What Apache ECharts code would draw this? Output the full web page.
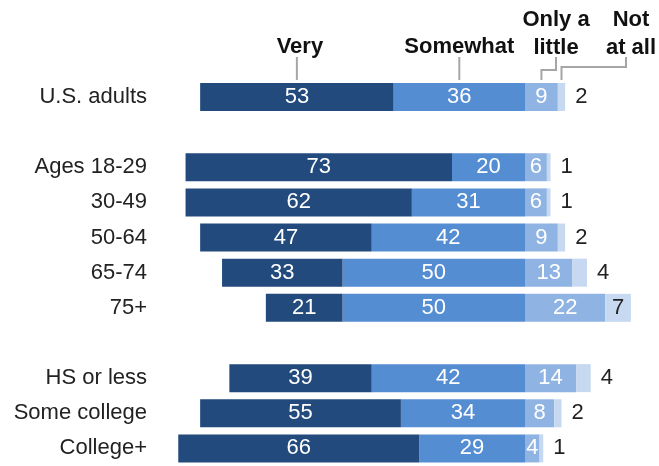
<!DOCTYPE html>
<html>
<head>
<meta charset="utf-8">
<script src="https://cdn.jsdelivr.net/npm/echarts@6/dist/echarts.min.js"></script>
<style>
  html, body { margin: 0; padding: 0; background: #fff; }
  #chart { width: 659px; height: 466px; }
</style>
</head>
<body>
<div id="chart"></div>
<script>
// rows (blank entries are the gaps between groups)
var categories = ['U.S. adults', ' ', 'Ages 18-29', '30-49', '50-64', '65-74', '75+', '  ', 'HS or less', 'Some college', 'College+'];
var very = [53, null, 73, 62, 47, 33, 21, null, 39, 55, 66];
var somewhat = [36, null, 20, 31, 42, 50, 50, null, 42, 34, 29];
var onlyLittle = [9, null, 6, 6, 9, 13, 22, null, 14, 8, 4];
var notAtAll = [2, null, 1, 1, 2, 4, 7, null, 4, 2, 1];

var FONT = '"Liberation Sans", Arial, sans-serif';
var colors = { very: '#224a7c', somewhat: '#558dd3', little: '#8fb4e3', not: '#c6d9f1' };

function neg(arr) {
  return arr.map(function (v) { return v == null ? null : -v; });
}

var chart = echarts.init(document.getElementById('chart'));

var insideLabel = {
  show: true,
  position: 'inside',
  color: '#fff',
  fontFamily: FONT,
  fontSize: 22,
  formatter: function (p) { return Math.abs(p.value); }
};

chart.setOption({
  animation: false,
  grid: { left: 160, top: 79.35, width: 496.4, height: 388.3, containLabel: false },
  xAxis: {
    type: 'value',
    min: -100,
    max: 36,
    show: false
  },
  yAxis: {
    type: 'category',
    data: categories,
    inverse: true,
    axisLine: { show: false, onZero: false },
    axisTick: { show: false },
    splitLine: { show: false },
    axisLabel: { color: '#222', fontFamily: FONT, fontSize: 22, margin: 13 }
  },
  series: [
    {
      name: 'Somewhat', type: 'bar', stack: 'total', barWidth: 28,
      itemStyle: { color: colors.somewhat },
      label: insideLabel,
      data: neg(somewhat)
    },
    {
      name: 'Very', type: 'bar', stack: 'total', barWidth: 28,
      itemStyle: { color: colors.very },
      label: insideLabel,
      data: neg(very)
    },
    {
      name: 'Only a little', type: 'bar', stack: 'total', barWidth: 28,
      itemStyle: { color: colors.little },
      label: insideLabel,
      data: onlyLittle
    },
    {
      name: 'Not at all', type: 'bar', stack: 'total', barWidth: 28,
      itemStyle: { color: colors.not },
      label: { show: true, position: 'right', distance: 10, color: '#222', fontFamily: FONT, fontSize: 22 },
      // small values sit outside the bar, larger ones fit inside
      data: notAtAll.map(function (v) {
        if (v == null) return null;
        if (v >= 5) return { value: v, label: { position: 'inside', color: '#222' } };
        return v;
      })
    }
  ]
});

// column headers with leader lines, anchored to the U.S. adults bar
function px(x) { return chart.convertToPixel({ gridIndex: 0 }, [x, 0]); }
var c0 = px(0);
var barTop = c0[1] - 14;
var lineEnd = barTop - 3;
var lineStart = 57;
var veryX = px(-(somewhat[0] + very[0] / 2))[0];
var someX = px(-(somewhat[0] / 2))[0];
var littleX = px(onlyLittle[0] / 2)[0];
var notX = px(onlyLittle[0] + notAtAll[0] / 2)[0];

var lineStyle = { stroke: '#a6a6a6', lineWidth: 2, fill: null };
function head(text, x, y) {
  return {
    type: 'text',
    style: {
      text: text, x: x, y: y,
      textAlign: 'center', textVerticalAlign: 'middle',
      font: 'bold 22px ' + FONT, lineHeight: 28, fill: '#111'
    }
  };
}

chart.setOption({
  graphic: [
    head('Very', veryX + 3, 47),
    head('Somewhat', someX, 47),
    head('Only a\nlittle', 556, 34),
    head('Not\nat all', 631, 34),
    { type: 'polyline', shape: { points: [[veryX, lineStart], [veryX, lineEnd]] }, style: lineStyle },
    { type: 'polyline', shape: { points: [[someX, lineStart], [someX, lineEnd]] }, style: lineStyle },
    { type: 'polyline', shape: { points: [[556, lineStart], [556, 70], [littleX, 70], [littleX, lineEnd]] }, style: lineStyle },
    { type: 'polyline', shape: { points: [[626, lineStart], [626, 67], [notX, 67], [notX, lineEnd]] }, style: lineStyle }
  ]
});
</script>
</body>
</html>
